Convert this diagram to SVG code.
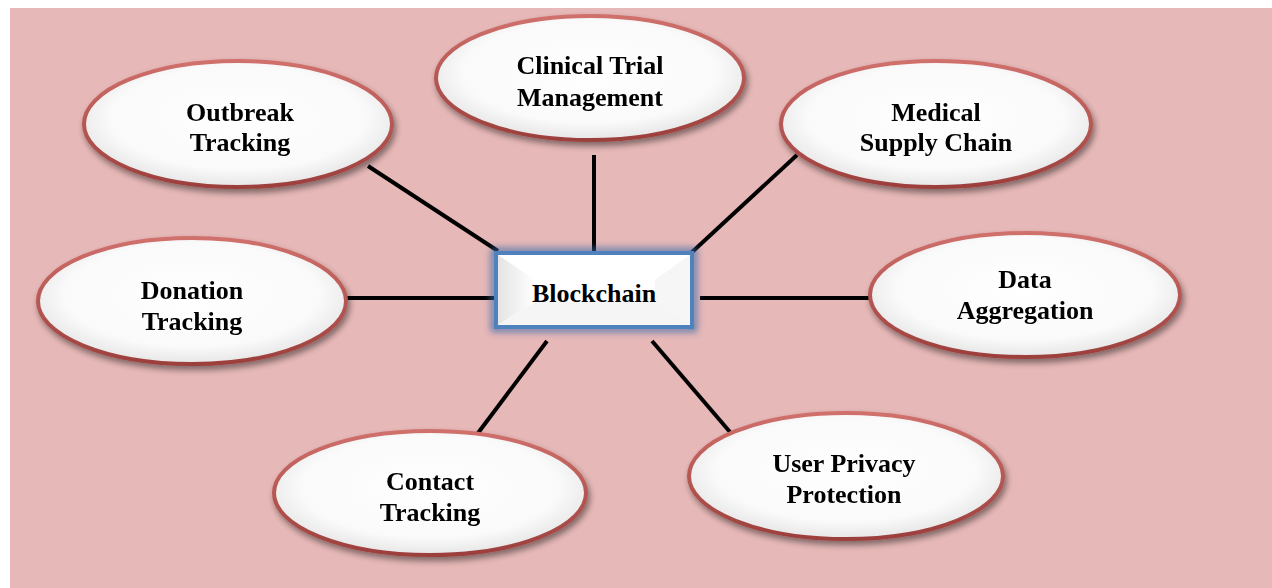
<svg xmlns="http://www.w3.org/2000/svg" width="1272" height="588" viewBox="0 0 1272 588">
<defs>
<radialGradient id="eg" cx="0.5" cy="0.45" r="0.55">
<stop offset="0" stop-color="#ffffff"/>
<stop offset="0.75" stop-color="#fafafa"/>
<stop offset="1" stop-color="#e6e6e6"/>
</radialGradient>
<linearGradient id="es" x1="0" y1="0" x2="0" y2="1">
<stop offset="0" stop-color="#d0706c"/>
<stop offset="1" stop-color="#9c3f3c"/>
</linearGradient>
<linearGradient id="bl" x1="0" y1="0" x2="1" y2="0">
<stop offset="0" stop-color="#e4e4e4"/>
<stop offset="1" stop-color="#ffffff"/>
</linearGradient>
<filter id="sh" x="-20%" y="-20%" width="140%" height="150%">
<feGaussianBlur in="SourceAlpha" stdDeviation="3"/>
<feOffset dx="2" dy="4" result="b"/>
<feComponentTransfer><feFuncA type="linear" slope="0.45"/></feComponentTransfer>
<feMerge><feMergeNode/><feMergeNode in="SourceGraphic"/></feMerge>
</filter>
<filter id="glow" x="-20%" y="-30%" width="140%" height="160%">
<feGaussianBlur in="SourceGraphic" stdDeviation="3.5"/>
</filter>
</defs>
<style>
.el{fill:url(#eg);stroke:url(#es);stroke-width:4}
.t{font-family:"Liberation Serif","Times New Roman",serif;font-weight:bold;font-size:26px;fill:#000;text-anchor:middle}
.c{stroke:#000;stroke-width:4;fill:none}
</style>
<rect x="0" y="0" width="1272" height="588" fill="#ffffff"/>
<rect x="10" y="8" width="1262" height="580" fill="#e6b8b7"/>
<g id="connectors">
<line class="c" x1="368" y1="166" x2="498" y2="251"/>
<line class="c" x1="594" y1="155" x2="594" y2="251"/>
<line class="c" x1="797" y1="155" x2="690" y2="254"/>
<line class="c" x1="347" y1="298" x2="494" y2="298"/>
<line class="c" x1="700" y1="298" x2="871" y2="298"/>
<line class="c" x1="547" y1="341" x2="478" y2="433"/>
<line class="c" x1="652" y1="341" x2="730" y2="432"/>
</g>
<g id="blockchain">
<rect x="494" y="251" width="200" height="78" fill="none" stroke="#3a6aa8" stroke-width="6" opacity="0.8" filter="url(#glow)"/>
<rect x="496" y="253" width="196" height="74" fill="#ffffff" stroke="#4f81bd" stroke-width="4"/>
<polygon points="498,255 535,280 535,302 498,325" fill="url(#bl)"/>
<polygon points="690,255 655,280 655,302 690,325" fill="#f6f6f6"/>
<polygon points="498,325 535,302 655,302 690,325" fill="#f5f5f5"/>
<text class="t" x="594" y="302">Blockchain</text>
</g>
<g id="outbreak" filter="url(#sh)">
<ellipse class="el" cx="238" cy="124" rx="154" ry="63"/>
<text class="t" x="240" y="121">Outbreak</text>
<text class="t" x="240" y="151">Tracking</text>
</g>
<g id="clinical" filter="url(#sh)">
<ellipse class="el" cx="590" cy="78" rx="154" ry="62"/>
<text class="t" x="590" y="74">Clinical Trial</text>
<text class="t" x="590" y="106">Management</text>
</g>
<g id="medical" filter="url(#sh)">
<ellipse class="el" cx="936" cy="124" rx="155" ry="63"/>
<text class="t" x="936" y="121">Medical</text>
<text class="t" x="936" y="151">Supply Chain</text>
</g>
<g id="donation" filter="url(#sh)">
<ellipse class="el" cx="192" cy="301" rx="154" ry="63"/>
<text class="t" x="192" y="299">Donation</text>
<text class="t" x="192" y="330">Tracking</text>
</g>
<g id="data" filter="url(#sh)">
<ellipse class="el" cx="1025" cy="295" rx="155" ry="62"/>
<text class="t" x="1025" y="288">Data</text>
<text class="t" x="1025" y="319">Aggregation</text>
</g>
<g id="contact" filter="url(#sh)">
<ellipse class="el" cx="430" cy="493" rx="156" ry="62"/>
<text class="t" x="430" y="490">Contact</text>
<text class="t" x="430" y="521">Tracking</text>
</g>
<g id="privacy" filter="url(#sh)">
<ellipse class="el" cx="846" cy="476" rx="157" ry="63"/>
<text class="t" x="844" y="472">User Privacy</text>
<text class="t" x="844" y="503">Protection</text>
</g>
</svg>
